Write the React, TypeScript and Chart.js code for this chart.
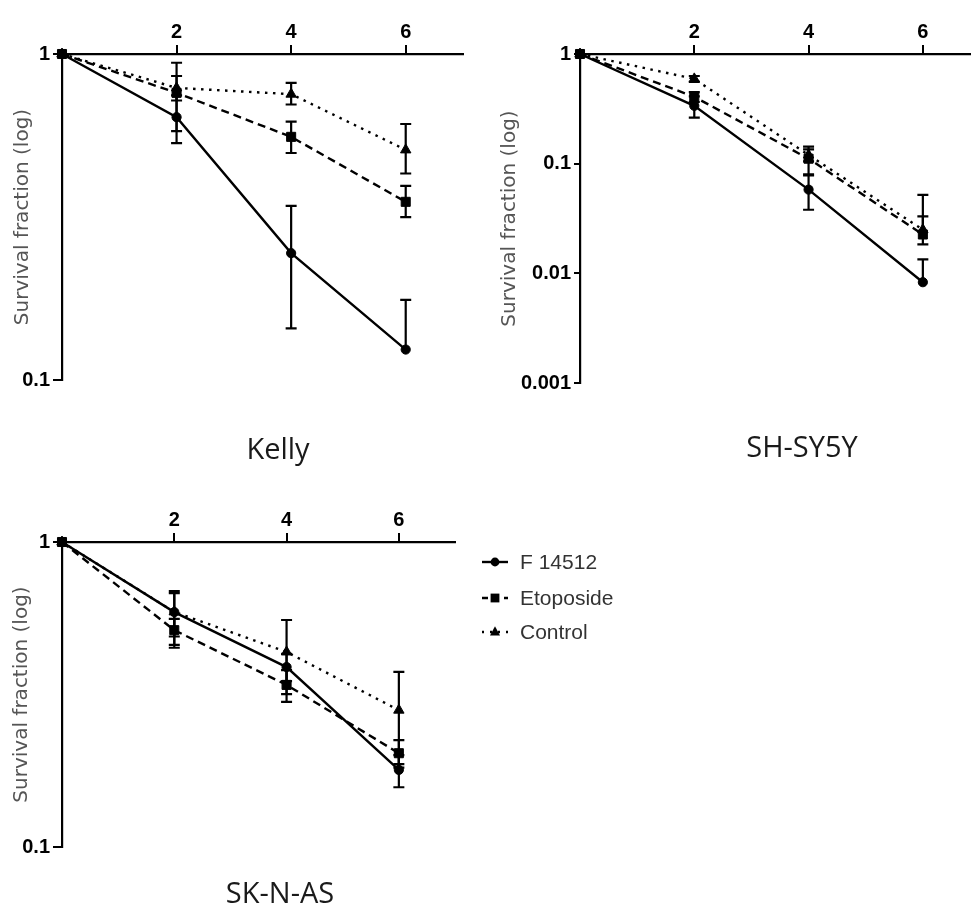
import React, { useEffect, useRef } from "react";
import { Chart, registerables } from "chart.js";

Chart.register(...registerables);

// ---------------- data ----------------
const doses = [0, 2, 4, 6];
const xTickValues = [2, 4, 6];
const seriesNames = ["F 14512", "Etoposide", "Control"];
const panelTitles = ["Kelly", "SH-SY5Y", "SK-N-AS"];
const yAxisTitle = "Survival fraction (log)";

const kellyYTicks = [0.1, 1];
const kellyYTickLabels = ["0.1", "1"];
const shYTicks = [0.001, 0.01, 0.1, 1];
const shYTickLabels = ["0.001", "0.01", "0.1", "1"];
const skYTicks = [0.1, 1];
const skYTickLabels = ["0.1", "1"];

// Kelly
const kellyF = [1, 0.64, 0.245, 0.124];
const kellyFHigh = [null, 0.747, 0.342, 0.176];
const kellyFLow = [null, 0.533, 0.144, null];
const kellyEto = [1, 0.76, 0.557, 0.352];
const kellyEtoHigh = [null, 0.94, 0.62, 0.394];
const kellyEtoLow = [null, 0.58, 0.497, 0.316];
const kellyCtrl = [1, 0.787, 0.753, 0.508];
const kellyCtrlHigh = [null, 0.856, 0.815, 0.61];
const kellyCtrlLow = [null, 0.72, 0.7, 0.43];

// SH-SY5Y
const shF = [1, 0.337, 0.058, 0.0083];
const shFHigh = [null, 0.41, 0.078, 0.0134];
const shFLow = [null, 0.263, 0.038, null];
const shEto = [1, 0.407, 0.111, 0.0226];
const shEtoHigh = [null, 0.45, 0.143, 0.052];
const shEtoLow = [null, 0.365, 0.08, null];
const shCtrl = [1, 0.593, 0.12, 0.025];
const shCtrlHigh = [null, 0.63, 0.135, 0.033];
const shCtrlLow = [null, 0.556, 0.105, 0.0184];

// SK-N-AS
const skF = [1, 0.589, 0.389, 0.179];
const skFHigh = [null, 0.69, 0.43, 0.2];
const skFLow = [null, 0.49, 0.35, 0.157];
const skEto = [1, 0.514, 0.34, 0.203];
const skEtoHigh = [null, 0.56, 0.38, 0.224];
const skEtoLow = [null, 0.46, 0.299, 0.182];
const skCtrl = [1, 0.59, 0.436, 0.281];
const skCtrlHigh = [null, 0.68, 0.555, 0.375];
const skCtrlLow = [null, 0.45, 0.317, 0.187];

// ---------------- styles ----------------
const TICK_FONT = "'Liberation Sans Narrow', 'Liberation Sans', Arial, sans-serif";
const styles = [
  { dash: [] as number[], pointStyle: "circle", radius: 4.6 },
  { dash: [8, 5], pointStyle: "rect", radius: 6.4 },
  { dash: [2.5, 5.5], pointStyle: "triangle", radius: 6 },
];

type Panel = {
  left: number; top: number; width: number; height: number;
  areaLeft: number; areaTop: number; areaRight: number; areaBottom: number;
  yMin: number; yTicks: number[]; yTickLabels: string[];
  yTickLen: number; yTickPad: number; yTitlePad: number;
  title: string; titleX: number; titleY: number;
  series: { mean: number[]; high: (number | null)[]; low: (number | null)[] }[];
  legend?: boolean;
};

const panels: Panel[] = [
  {
    left: 0, top: 0, width: 480, height: 470,
    areaLeft: 62, areaTop: 54, areaRight: 463, areaBottom: 380,
    yMin: 0.1, yTicks: kellyYTicks, yTickLabels: kellyYTickLabels,
    yTickLen: 9, yTickPad: 3, yTitlePad: 11,
    title: panelTitles[0], titleX: 278, titleY: 459,
    series: [
      { mean: kellyF, high: kellyFHigh, low: kellyFLow },
      { mean: kellyEto, high: kellyEtoHigh, low: kellyEtoLow },
      { mean: kellyCtrl, high: kellyCtrlHigh, low: kellyCtrlLow },
    ],
  },
  {
    left: 490, top: 0, width: 500, height: 470,
    areaLeft: 90, areaTop: 54, areaRight: 490, areaBottom: 383,
    yMin: 0.001, yTicks: shYTicks, yTickLabels: shYTickLabels,
    yTickLen: 6, yTickPad: 3, yTitlePad: 8,
    title: panelTitles[1], titleX: 312, titleY: 457,
    series: [
      { mean: shF, high: shFHigh, low: shFLow },
      { mean: shEto, high: shEtoHigh, low: shEtoLow },
      { mean: shCtrl, high: shCtrlHigh, low: shCtrlLow },
    ],
  },
  {
    left: 0, top: 488, width: 660, height: 417,
    areaLeft: 62, areaTop: 54, areaRight: 455, areaBottom: 359,
    yMin: 0.1, yTicks: skYTicks, yTickLabels: skYTickLabels,
    yTickLen: 9, yTickPad: 3, yTitlePad: 10,
    title: panelTitles[2], titleX: 280, titleY: 415,
    series: [
      { mean: skF, high: skFHigh, low: skFLow },
      { mean: skEto, high: skEtoHigh, low: skEtoLow },
      { mean: skCtrl, high: skCtrlHigh, low: skCtrlLow },
    ],
    legend: true,
  },
];

function drawMarker(ctx: CanvasRenderingContext2D, style: string, x: number, y: number) {
  ctx.beginPath();
  if (style === "circle") {
    ctx.arc(x, y, 4.4, 0, Math.PI * 2);
  } else if (style === "rect") {
    ctx.rect(x - 4.4, y - 4.4, 8.8, 8.8);
  } else {
    ctx.moveTo(x, y - 5.8);
    ctx.lineTo(x + 5, y + 3.6);
    ctx.lineTo(x - 5, y + 3.6);
    ctx.closePath();
  }
  ctx.fill();
}

function makePlugins(p: Panel) {
  const errorBars = {
    id: "errorBars",
    afterDatasetsDraw(chart: any) {
      const ctx = chart.ctx as CanvasRenderingContext2D;
      const xs = chart.scales.x;
      const ys = chart.scales.y;
      ctx.save();
      ctx.strokeStyle = "#000";
      ctx.lineWidth = 2.2;
      ctx.setLineDash([]);
      p.series.forEach((s) => {
        s.mean.forEach((m, i) => {
          const h = s.high[i];
          const l = s.low[i];
          if (h == null && l == null) return;
          const x = xs.getPixelForValue(doses[i]);
          const y0 = ys.getPixelForValue(m);
          const yh = h != null ? ys.getPixelForValue(h) : y0;
          const yl = l != null ? ys.getPixelForValue(l) : y0;
          ctx.beginPath();
          ctx.moveTo(x, yh);
          ctx.lineTo(x, yl);
          if (h != null) { ctx.moveTo(x - 5.5, yh); ctx.lineTo(x + 5.5, yh); }
          if (l != null) { ctx.moveTo(x - 5.5, yl); ctx.lineTo(x + 5.5, yl); }
          ctx.stroke();
        });
      });
      ctx.restore();
    },
  };
  const panelText = {
    id: "panelText",
    afterDraw(chart: any) {
      const ctx = chart.ctx as CanvasRenderingContext2D;
      ctx.save();
      ctx.fillStyle = "#1a1a1a";
      ctx.font = "29px 'Open Sans', 'Noto Sans', sans-serif";
      ctx.textAlign = "center";
      ctx.textBaseline = "alphabetic";
      ctx.fillText(p.title, p.titleX, p.titleY);
      if (p.legend) {
        const rows = [74, 110, 144];
        seriesNames.forEach((name, i) => {
          const y = rows[i];
          ctx.strokeStyle = "#000";
          ctx.fillStyle = "#000";
          ctx.lineWidth = 2.4;
          ctx.setLineDash(i === 0 ? [] : i === 1 ? [6, 5] : [2, 6]);
          ctx.beginPath();
          ctx.moveTo(482, y);
          ctx.lineTo(508, y);
          ctx.stroke();
          ctx.setLineDash([]);
          drawMarker(ctx, styles[i].pointStyle, 495, y);
          ctx.fillStyle = "#333";
          ctx.font = "21px 'Liberation Sans', Arial, sans-serif";
          ctx.textAlign = "left";
          ctx.textBaseline = "middle";
          ctx.fillText(name, 520, y + 1);
        });
      }
      ctx.restore();
    },
  };
  return [errorBars, panelText];
}

function buildConfig(p: Panel): any {
  const datasets = p.series.map((s, i) => ({
    label: seriesNames[i],
    data: doses.map((d, j) => ({ x: d, y: s.mean[j] })),
    borderColor: "#000",
    backgroundColor: "#000",
    borderWidth: 2.4,
    borderDash: styles[i].dash,
    pointStyle: styles[i].pointStyle,
    pointRadius: styles[i].radius,
    pointBackgroundColor: "#000",
    pointBorderColor: "#000",
    pointBorderWidth: 1,
    fill: false,
    tension: 0,
    clip: false,
  }));
  return {
    type: "line",
    data: { datasets },
    plugins: makePlugins(p),
    options: {
      animation: false,
      responsive: false,
      maintainAspectRatio: false,
      devicePixelRatio: 1,
      events: [],
      layout: {
        padding: { left: 0, top: 0, right: p.width - p.areaRight, bottom: p.height - p.areaBottom },
      },
      plugins: { legend: { display: false }, tooltip: { enabled: false }, title: { display: false } },
      scales: {
        x: {
          type: "linear",
          position: "top",
          min: 0,
          max: 7,
          afterBuildTicks: (s: any) => { s.ticks = xTickValues.map((v) => ({ value: v })); },
          afterFit: (s: any) => { s.height = p.areaTop; },
          grid: { drawOnChartArea: false, drawTicks: true, tickLength: 9, color: "#000", lineWidth: 2 },
          border: { display: true, color: "#000", width: 2.2 },
          ticks: {
            padding: 1,
            color: "#000",
            maxRotation: 0,
            font: { family: TICK_FONT, size: 20, weight: "bold", lineHeight: 1.2 },
          },
        },
        y: {
          type: "logarithmic",
          position: "left",
          min: p.yMin,
          max: 1,
          afterBuildTicks: (s: any) => { s.ticks = p.yTicks.map((v) => ({ value: v })); },
          afterFit: (s: any) => { s.width = p.areaLeft; },
          grid: { drawOnChartArea: false, drawTicks: true, tickLength: p.yTickLen, color: "#000", lineWidth: 2 },
          border: { display: true, color: "#000", width: 2.2 },
          ticks: {
            padding: p.yTickPad,
            color: "#000",
            font: { family: TICK_FONT, size: 20, weight: "bold" },
            callback: (v: number) => {
              const idx = p.yTicks.findIndex((t) => Math.abs(t - v) < t * 1e-6);
              return idx >= 0 ? p.yTickLabels[idx] : "";
            },
          },
          title: {
            display: true,
            text: yAxisTitle,
            color: "#555",
            font: { family: "'DejaVu Sans', sans-serif", size: 20 },
            padding: { top: p.yTitlePad, bottom: 0 },
          },
        },
      },
    },
  };
}

function PanelChart({ p }: { p: Panel }) {
  const ref = useRef<HTMLCanvasElement | null>(null);
  useEffect(() => {
    if (!ref.current) return;
    const chart = new Chart(ref.current, buildConfig(p));
    return () => chart.destroy();
  }, [p]);
  return (
    <canvas
      ref={ref}
      width={p.width}
      height={p.height}
      style={{ position: "absolute", left: p.left, top: p.top, width: p.width, height: p.height }}
    />
  );
}

export default function App() {
  return (
    <div
      style={{
        position: "fixed",
        left: 0,
        top: 0,
        width: 971,
        height: 905,
        overflow: "hidden",
        background: "#fff",
      }}
    >
      {panels.map((p, i) => (
        <PanelChart key={i} p={p} />
      ))}
    </div>
  );
}
